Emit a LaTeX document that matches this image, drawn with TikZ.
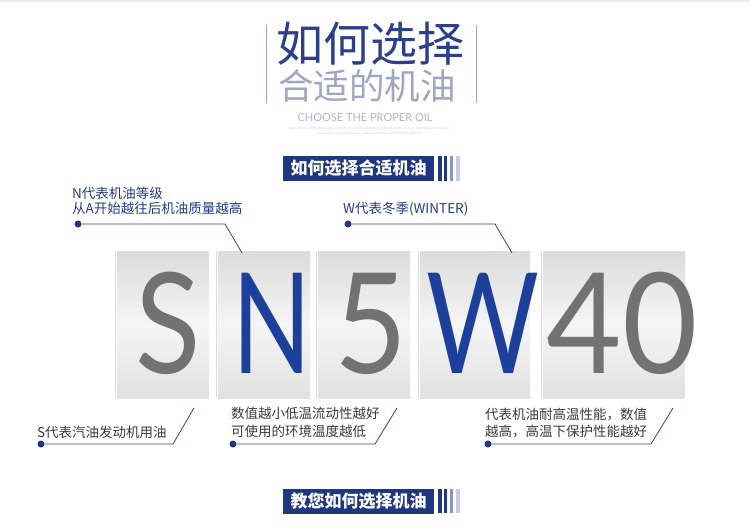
\documentclass[tikz,border=0pt]{standalone}
\usepackage{fontspec}
\setmainfont{Noto Sans CJK SC}
\newfontfamily\cjk{Noto Sans CJK SC}
\newfontfamily\lato{Lato}
\definecolor{navy}{HTML}{1F3680}
\definecolor{labelblue}{HTML}{233D85}
\definecolor{titleblue}{HTML}{2B3F8C}
\definecolor{subtitle}{HTML}{9EA6C4}
\definecolor{choose}{HTML}{AEB5CF}
\definecolor{graytext}{HTML}{3A3A3A}
\definecolor{lettergray}{HTML}{727272}
\definecolor{letterblue}{HTML}{1C409C}
\definecolor{connblue}{HTML}{2C4488}
\definecolor{stripe3}{HTML}{8A96BD}
\definecolor{stripe4}{HTML}{C7CDE0}
\tikzset{
  card/.style={draw=none, top color=black!14, bottom color=black!12, middle color=black!4, inner sep=0pt, anchor=north west},
  cardedge/.style={draw=black!14, line width=0.8pt},
  bigletter/.style={font=\lato\fontsize{140}{140}\selectfont, anchor=base, inner sep=0pt},
  toplabel/.style={font=\cjk\fontsize{13.5}{14}\selectfont, text=labelblue, anchor=base west, inner sep=0pt},
  botlabel/.style={font=\cjk\fontsize{13.5}{14}\selectfont, text=graytext, anchor=base west, inner sep=0pt},
  dot/.style={circle, fill=navy, inner sep=0pt, minimum size=7pt},
  conn/.style={draw=connblue, line width=0.8pt},
  banner/.style={fill=navy, text=white, font=\cjk\bfseries\fontsize{17}{17}\selectfont, inner sep=0pt, minimum width=151pt, minimum height=25pt},
  vline/.style={draw=subtitle, line width=0.8pt},
}
\begin{document}
\begin{tikzpicture}[x=1pt,y=-1pt]
\useasboundingbox (0,0) rectangle (750,531);
\fill[white] (0,0) rectangle (750,531);
\fill[black!8] (0,0) rectangle (750,1.5);

% title block
\draw[vline] (266,25) -- (266,103);
\draw[vline] (476,25) -- (476,103);
\node[font=\cjk\fontsize{47}{47}\selectfont, text=titleblue, inner sep=0pt] (t1) at (370,44) {如何选择};
\node[font=\cjk\fontsize{35.5}{36}\selectfont, text=subtitle, inner sep=0pt] (t2) at (367,86) {合适的机油};
\node[font=\lato\fontsize{11}{11}\selectfont, text=choose, inner sep=0pt] (t3) at (365,118) {CHOOSE THE PROPER OIL};
\node[font=\lato\fontsize{3.4}{4}\selectfont, text=black!18, inner sep=0pt] (t4) at (369,128.5) {make things better truly happy living in the world something to do, some one to love, something to hope for};
\node[font=\lato\fontsize{3.4}{4}\selectfont, text=black!18, inner sep=0pt] (t5) at (370,134) {one world, something to do, some one to love, something to hope for};

% banner 1
\node[banner] (b1) at (358.5,168.5) {如何选择合适机油};
\fill[navy] (438,156) rectangle (441.5,181);
\fill[navy] (443.5,156) rectangle (447,181);
\fill[stripe3] (449.5,156) rectangle (453,181);
\fill[stripe4] (456,156) rectangle (459.5,181);

% cards
\foreach \l/\w/\n in {117/92/cS, 218/92/cN, 318/92/c5, 420/110/cW, 543/142/c40}{
  \node[card, minimum width=\w pt, minimum height=147pt] (\n) at (\l,251) {};
  \draw[cardedge] (\l-2,251) -- (\l-2,398);
}
\node[bigletter, text=lettergray] (lS) at (168.5,373) {\scalebox{0.86}[1]{S}};
\node[bigletter, text=letterblue] (lN) at (272,373) {\scalebox{0.74}[1]{N}};
\node[bigletter, text=lettergray] (l5) at (371,373) {\scalebox{0.9}[1]{5}};
\node[bigletter, text=letterblue] (lW) at (483.5,373) {\scalebox{0.78}[1]{W}};
\node[bigletter, text=lettergray] (l40) at (622.5,373) {\scalebox{0.93}[1]{40}};

% top labels
\node[toplabel] (n1) at (72,198) {N代表机油等级};
\node[toplabel] (n2) at (72,213) {从A开始越往后机油质量越高};
\node[dot] (dN) at (78,224) {};
\coordinate (kN) at (225,224);
\coordinate (eN) at (242,253);
\draw[conn] (dN) -- (kN) -- (eN);

\node[toplabel] (w1) at (343,213) {W代表冬季(WINTER)};
\node[dot] (dW) at (348,224) {};
\coordinate (kW) at (495,224);
\coordinate (eW) at (512,253);
\draw[conn] (dW) -- (kW) -- (eW);

% bottom labels
\node[botlabel] (s1) at (37,437) {S代表汽油发动机用油};
\node[dot] (dS) at (41,444) {};
\coordinate (kS) at (173,444);
\coordinate (eS) at (194,408);
\draw[conn] (dS) -- (kS) -- (eS);

\node[botlabel] (v1) at (231,418) {数值越小低温流动性越好};
\node[botlabel] (v2) at (231,436) {可使用的环境温度越低};
\node[dot] (dV) at (233,444) {};
\coordinate (kV) at (375,444);
\coordinate (eV) at (397,408);
\draw[conn] (dV) -- (kV) -- (eV);

\node[botlabel] (h1) at (485,419) {代表机油耐高温性能，数值};
\node[botlabel] (h2) at (485,436) {越高，高温下保护性能越好};
\node[dot] (dH) at (488,444) {};
\coordinate (kH) at (651,444);
\coordinate (eH) at (673,408);
\draw[conn] (dH) -- (kH) -- (eH);

% banner 2
\node[banner] (b2) at (358.5,501) {教您如何选择机油};
\fill[navy] (438,489) rectangle (441.5,513);
\fill[navy] (443.5,489) rectangle (447,513);
\fill[stripe3] (449.5,489) rectangle (453,513);
\fill[stripe4] (456,489) rectangle (459.5,513);
\end{tikzpicture}
\end{document}
